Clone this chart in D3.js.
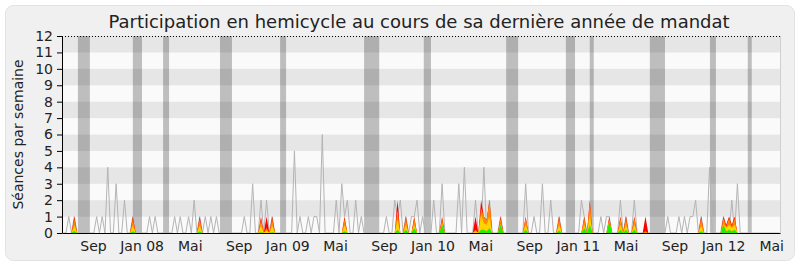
<!DOCTYPE html>
<html>
<head>
<meta charset="utf-8">
<script src="https://cdn.jsdelivr.net/npm/d3@7"></script>
<style>
  body { margin: 0; background: #fff; }
  text { font-family: "DejaVu Sans", sans-serif; fill: #222; }
</style>
</head>
<body>
<div class="chart"></div>
<script>
var svgWidth = 800;
var svgHeight = 267;

var margin = { top: 36, right: 20, bottom: 34, left: 62 };
var width = svgWidth - margin.left - margin.right;
var height = svgHeight - margin.top - margin.bottom;

// semaines : index depuis le lundi 18 juin 2007
var debut = "2007-06-18";
var nbSemaines = 258;
var domaine = ["2007-06-15", "2012-05-23"];

// ligne grise
var grisSemaines = [2, 4, 12, 14, 16, 19, 22, 25, 31, 33, 40, 42, 45, 47, 49, 51, 53, 55,
  65, 68, 71, 73, 75, 83, 85, 88, 90, 91, 93, 98, 100, 101, 102, 105, 107,
  116, 119, 120, 121, 123, 125, 126, 127, 129, 133, 136, 142, 144, 148, 151, 153, 157,
  166, 169, 172, 175, 178, 186, 187, 189, 193, 195, 196, 200, 202, 205,
  217, 221, 223, 225, 226, 227, 229, 232, 237, 240, 242];
var grisValeurs = [1, 1, 1, 1, 4, 3, 2, 1, 1, 1, 1, 1, 1, 2, 1, 1, 1, 1,
  1, 3, 2, 2, 1, 5, 1, 1, 1, 1, 6, 2, 3, 1, 2, 2, 1,
  1, 2, 1, 2, 1, 1, 1, 2, 1, 2, 3, 3, 4, 2, 4, 2, 1,
  3, 1, 3, 2, 1, 2, 1, 1, 1, 1, 1, 2, 1, 2,
  1, 1, 1, 1, 1, 2, 1, 4, 1, 2, 3];

// zones colorées
var couleurSemaines = [4, 25, 49, 71, 73, 75, 101, 120, 123, 126, 136, 148, 150, 151, 152, 153, 157,
  166, 178, 187, 189, 196, 200, 202, 205, 209, 229, 237, 238, 239, 240, 241];
var rouge  = [1, 1, 1, 1, 1, 1, 1, 2, 1, 1, 1, 1, 2, 1, 0.8, 2, 1,
  1, 1, 1, 2, 1, 1, 1, 1, 1, 1, 1, 0.5, 1, 0.5, 1];
var orange = [0.85, 0.85, 0.85, 0.8, 0.3, 0.85, 0.85, 1.4, 0.9, 0.9, 0.85, 0.2, 1.5, 1, 0.8, 2, 0.9,
  0.9, 0.9, 0.9, 1.9, 0.9, 0.9, 0.9, 0.9, 0.1, 0.9, 0.9, 0.4, 0.9, 0.4, 0.9];
var jaune  = [0.45, 0.45, 0.45, 0.45, 0.15, 0.45, 0.45, 0.8, 0.5, 0.5, 0.55, 0.1, 1.1, 0.6, 0.5, 1, 0.55,
  0.5, 0.5, 0.5, 1.1, 0.7, 0.5, 0.5, 0.5, 0, 0.45, 0.55, 0.3, 0.5, 0.3, 0.5];
var vert   = [0.12, 0.1, 0.1, 0.05, 0, 0.05, 0.1, 0.2, 0.2, 0.3, 0.5, 0, 0.2, 0.2, 0.1, 0.3, 0.5,
  0.2, 0.15, 0.3, 0.5, 0.7, 0.2, 0.2, 0.2, 0, 0.1, 0.5, 0.1, 0.2, 0.1, 0.2];

// vacances parlementaires
var vacancesDebut = ["2007-07-25", "2007-12-10", "2008-02-24", "2008-07-16", "2008-12-14",
  "2009-07-13", "2009-12-10", "2010-07-05", "2010-12-02", "2011-01-31", "2011-07-01",
  "2011-11-29", "2012-03-03"];
var vacancesFin = ["2007-08-24", "2008-01-02", "2008-03-10", "2008-08-15", "2008-12-29",
  "2009-08-20", "2009-12-28", "2010-08-04", "2010-12-25", "2011-02-10", "2011-08-08",
  "2011-12-14", "2012-03-13"];

var moisDates = ["2007-09-01", "2008-01-01", "2008-05-01", "2008-09-01", "2009-01-01", "2009-05-01",
  "2009-09-01", "2010-01-01", "2010-05-01", "2010-09-01", "2011-01-01", "2011-05-01",
  "2011-09-01", "2012-01-01", "2012-05-01"];
var moisLabels = ["Sep", "Jan 08", "Mai", "Sep", "Jan 09", "Mai", "Sep", "Jan 10", "Mai",
  "Sep", "Jan 11", "Mai", "Sep", "Jan 12", "Mai"];

var yTicks = [0, 1, 2, 3, 4, 5, 6, 7, 8, 9, 10, 11, 12];

var parse = d3.timeParse("%Y-%m-%d");

// table hebdomadaire
var start = parse(debut);
var semaines = d3.range(nbSemaines).map(function(i) {
  return { date: d3.timeDay.offset(start, 7 * i), gris: 0, r: 0, o: 0, j: 0, v: 0 };
});
grisSemaines.forEach(function(w, k) { semaines[w].gris = grisValeurs[k]; });
couleurSemaines.forEach(function(w, k) {
  semaines[w].r = rouge[k];
  semaines[w].o = orange[k];
  semaines[w].j = jaune[k];
  semaines[w].v = vert[k];
});

var svg = d3.select(".chart")
  .append("svg")
  .attr("width", svgWidth)
  .attr("height", svgHeight);

svg.append("rect")
  .attr("x", 5.5).attr("y", 5.5)
  .attr("width", 789).attr("height", 255)
  .attr("rx", 8)
  .attr("fill", "#f0f0f0")
  .attr("stroke", "#e2e2e2");

svg.append("text")
  .attr("x", 419)
  .attr("y", 28)
  .attr("text-anchor", "middle")
  .style("font-size", "18px")
  .text("Participation en hemicycle au cours de sa dernière année de mandat");

var chart = svg.append("g")
  .attr("transform", "translate(" + margin.left + "," + margin.top + ")");

var xScale = d3.scaleTime()
  .domain(domaine.map(parse))
  .range([0, width]);

var yScale = d3.scaleLinear()
  .domain([0, 12])
  .range([height, 0]);

// bandes horizontales
chart.selectAll(".bande")
  .data(d3.range(12))
  .enter().append("rect")
  .attr("x", 0)
  .attr("width", width)
  .attr("y", function(v) { return yScale(v + 1); })
  .attr("height", function(v) { return yScale(v) - yScale(v + 1); })
  .attr("fill", function(v) { return v % 2 ? "#e6e6e6" : "#fafafa"; });

// vacances
chart.selectAll(".vacances")
  .data(vacancesDebut)
  .enter().append("rect")
  .attr("x", function(d) { return xScale(parse(d)); })
  .attr("width", function(d, i) { return xScale(parse(vacancesFin[i])) - xScale(parse(d)); })
  .attr("y", 0)
  .attr("height", height)
  .attr("fill", "#000")
  .attr("fill-opacity", 0.24);

// ligne grise
var ligne = d3.line()
  .x(function(d) { return xScale(d.date); })
  .y(function(d) { return yScale(d.gris); });

chart.append("path")
  .datum(semaines)
  .attr("fill", "none")
  .attr("stroke", "#b4b4b4")
  .attr("stroke-width", 1)
  .attr("d", ligne);

// zones colorées
var series = [["r", "#ff0000"], ["o", "#ff8c00"], ["j", "#ffd200"], ["v", "#22ee00"]];
series.forEach(function(s) {
  var aire = d3.area()
    .x(function(d) { return xScale(d.date); })
    .y0(yScale(0))
    .y1(function(d) { return yScale(d[s[0]]); });
  chart.append("path")
    .datum(semaines)
    .attr("fill", s[1])
    .attr("d", aire);
});

// bordure droite et pointillé du haut
chart.append("line")
  .attr("x1", width + 0.5).attr("x2", width + 0.5)
  .attr("y1", 0).attr("y2", height)
  .attr("stroke", "#d0d0d0");

chart.append("line")
  .attr("x1", 0).attr("x2", width)
  .attr("y1", 0.5).attr("y2", 0.5)
  .attr("stroke", "#000")
  .attr("stroke-dasharray", "1,2");

// axes
var bottomAxis = d3.axisBottom(xScale)
  .tickValues(moisDates.map(parse))
  .tickFormat(function(d, i) { return moisLabels[i]; })
  .tickSize(0)
  .tickPadding(8);

var gx = chart.append("g")
  .attr("transform", "translate(0," + height + ")")
  .call(bottomAxis);
gx.select(".domain").attr("stroke", "#000");
gx.selectAll("text").style("font-size", "14px").attr("fill", "#222");

var leftAxis = d3.axisLeft(yScale)
  .tickValues(yTicks)
  .tickSize(5)
  .tickSizeOuter(0)
  .tickPadding(4);

var gy = chart.append("g").call(leftAxis);
gy.select(".domain").attr("stroke", "#000");
gy.selectAll("line").attr("stroke", "#000");
gy.selectAll("text").style("font-size", "14px").attr("fill", "#222");

chart.append("text")
  .attr("transform", "rotate(-90)")
  .attr("x", -height / 2)
  .attr("y", -39)
  .attr("text-anchor", "middle")
  .style("font-size", "14px")
  .text("Séances par semaine");
</script>
</body>
</html>
